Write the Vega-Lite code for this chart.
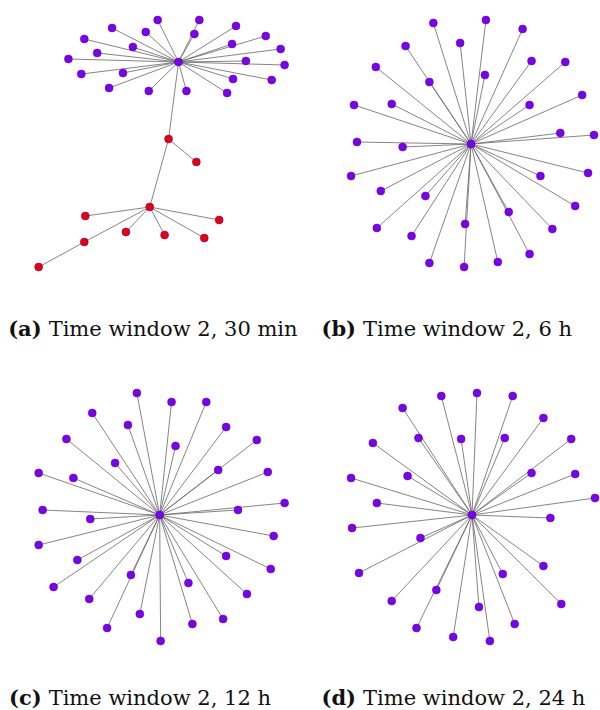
{
  "$schema": "https://vega.github.io/schema/vega-lite/v6.json",
  "width": 600,
  "height": 710,
  "autosize": {"type": "fit", "contains": "padding"},
  "padding": 0,
  "background": "white",
  "config": {"view": {"stroke": null}},
  "datasets": {
    "nodes": [
      {"id": "a0", "parent": null, "x": 180, "y": 62, "group": "purple"},
      {"id": "a1", "parent": "a0", "x": 159, "y": 20, "group": "purple"},
      {"id": "a2", "parent": "a0", "x": 113, "y": 28, "group": "purple"},
      {"id": "a3", "parent": "a0", "x": 147, "y": 32, "group": "purple"},
      {"id": "a4", "parent": "a0", "x": 85, "y": 39, "group": "purple"},
      {"id": "a5", "parent": "a0", "x": 134, "y": 47, "group": "purple"},
      {"id": "a6", "parent": "a0", "x": 98, "y": 53, "group": "purple"},
      {"id": "a7", "parent": "a0", "x": 69, "y": 59, "group": "purple"},
      {"id": "a8", "parent": "a0", "x": 82, "y": 74, "group": "purple"},
      {"id": "a9", "parent": "a0", "x": 124, "y": 73, "group": "purple"},
      {"id": "a10", "parent": "a0", "x": 110, "y": 88, "group": "purple"},
      {"id": "a11", "parent": "a0", "x": 150, "y": 91, "group": "purple"},
      {"id": "a12", "parent": "a0", "x": 201, "y": 20, "group": "purple"},
      {"id": "a13", "parent": "a0", "x": 196, "y": 34, "group": "purple"},
      {"id": "a14", "parent": "a0", "x": 238, "y": 26, "group": "purple"},
      {"id": "a15", "parent": "a0", "x": 268, "y": 36, "group": "purple"},
      {"id": "a16", "parent": "a0", "x": 234, "y": 44, "group": "purple"},
      {"id": "a17", "parent": "a0", "x": 283, "y": 49, "group": "purple"},
      {"id": "a18", "parent": "a0", "x": 248, "y": 61, "group": "purple"},
      {"id": "a19", "parent": "a0", "x": 287, "y": 65, "group": "purple"},
      {"id": "a20", "parent": "a0", "x": 235, "y": 79, "group": "purple"},
      {"id": "a21", "parent": "a0", "x": 274, "y": 80, "group": "purple"},
      {"id": "a22", "parent": "a0", "x": 188, "y": 91, "group": "purple"},
      {"id": "a23", "parent": "a0", "x": 229, "y": 93, "group": "purple"},
      {"id": "ar1", "parent": "a0", "x": 170, "y": 139, "group": "red"},
      {"id": "ar2", "parent": "ar1", "x": 198, "y": 162, "group": "red"},
      {"id": "ar3", "parent": "ar1", "x": 151, "y": 207, "group": "red"},
      {"id": "ar4", "parent": "ar3", "x": 86, "y": 216, "group": "red"},
      {"id": "ar5", "parent": "ar3", "x": 221, "y": 220, "group": "red"},
      {"id": "ar6", "parent": "ar3", "x": 127, "y": 232, "group": "red"},
      {"id": "ar7", "parent": "ar3", "x": 166, "y": 235, "group": "red"},
      {"id": "ar8", "parent": "ar3", "x": 206, "y": 238, "group": "red"},
      {"id": "ar9", "parent": "ar3", "x": 85, "y": 242, "group": "red"},
      {"id": "ar10", "parent": "ar9", "x": 39, "y": 267, "group": "red"},

      {"id": "b0", "parent": null, "x": 475, "y": 144, "group": "purple"},
      {"id": "b1", "parent": "b0", "x": 437, "y": 23, "group": "purple"},
      {"id": "b2", "parent": "b0", "x": 464, "y": 43, "group": "purple"},
      {"id": "b3", "parent": "b0", "x": 409, "y": 46, "group": "purple"},
      {"id": "b4", "parent": "b0", "x": 379, "y": 67, "group": "purple"},
      {"id": "b5", "parent": "b0", "x": 433, "y": 82, "group": "purple"},
      {"id": "b6", "parent": "b0", "x": 357, "y": 105, "group": "purple"},
      {"id": "b7", "parent": "b0", "x": 395, "y": 104, "group": "purple"},
      {"id": "b8", "parent": "b0", "x": 360, "y": 142, "group": "purple"},
      {"id": "b9", "parent": "b0", "x": 406, "y": 147, "group": "purple"},
      {"id": "b10", "parent": "b0", "x": 490, "y": 20, "group": "purple"},
      {"id": "b11", "parent": "b0", "x": 527, "y": 29, "group": "purple"},
      {"id": "b12", "parent": "b0", "x": 536, "y": 61, "group": "purple"},
      {"id": "b13", "parent": "b0", "x": 570, "y": 62, "group": "purple"},
      {"id": "b14", "parent": "b0", "x": 489, "y": 75, "group": "purple"},
      {"id": "b15", "parent": "b0", "x": 587, "y": 95, "group": "purple"},
      {"id": "b16", "parent": "b0", "x": 534, "y": 105, "group": "purple"},
      {"id": "b17", "parent": "b0", "x": 565, "y": 133, "group": "purple"},
      {"id": "b18", "parent": "b0", "x": 599, "y": 135, "group": "purple"},
      {"id": "b19", "parent": "b0", "x": 354, "y": 176, "group": "purple"},
      {"id": "b20", "parent": "b0", "x": 384, "y": 191, "group": "purple"},
      {"id": "b21", "parent": "b0", "x": 429, "y": 196, "group": "purple"},
      {"id": "b22", "parent": "b0", "x": 545, "y": 176, "group": "purple"},
      {"id": "b23", "parent": "b0", "x": 593, "y": 173, "group": "purple"},
      {"id": "b24", "parent": "b0", "x": 580, "y": 206, "group": "purple"},
      {"id": "b25", "parent": "b0", "x": 513, "y": 212, "group": "purple"},
      {"id": "b26", "parent": "b0", "x": 557, "y": 229, "group": "purple"},
      {"id": "b27", "parent": "b0", "x": 380, "y": 228, "group": "purple"},
      {"id": "b28", "parent": "b0", "x": 415, "y": 236, "group": "purple"},
      {"id": "b29", "parent": "b0", "x": 469, "y": 224, "group": "purple"},
      {"id": "b30", "parent": "b0", "x": 534, "y": 254, "group": "purple"},
      {"id": "b31", "parent": "b0", "x": 433, "y": 263, "group": "purple"},
      {"id": "b32", "parent": "b0", "x": 468, "y": 267, "group": "purple"},
      {"id": "b33", "parent": "b0", "x": 502, "y": 262, "group": "purple"},

      {"id": "c0", "parent": null, "x": 161, "y": 515, "group": "purple"},
      {"id": "c1", "parent": "c0", "x": 138, "y": 393, "group": "purple"},
      {"id": "c2", "parent": "c0", "x": 93, "y": 413, "group": "purple"},
      {"id": "c3", "parent": "c0", "x": 129, "y": 425, "group": "purple"},
      {"id": "c4", "parent": "c0", "x": 67, "y": 439, "group": "purple"},
      {"id": "c5", "parent": "c0", "x": 116, "y": 463, "group": "purple"},
      {"id": "c6", "parent": "c0", "x": 39, "y": 473, "group": "purple"},
      {"id": "c7", "parent": "c0", "x": 74, "y": 478, "group": "purple"},
      {"id": "c8", "parent": "c0", "x": 43, "y": 510, "group": "purple"},
      {"id": "c9", "parent": "c0", "x": 91, "y": 519, "group": "purple"},
      {"id": "c10", "parent": "c0", "x": 173, "y": 402, "group": "purple"},
      {"id": "c11", "parent": "c0", "x": 208, "y": 402, "group": "purple"},
      {"id": "c12", "parent": "c0", "x": 228, "y": 427, "group": "purple"},
      {"id": "c13", "parent": "c0", "x": 177, "y": 446, "group": "purple"},
      {"id": "c14", "parent": "c0", "x": 259, "y": 440, "group": "purple"},
      {"id": "c15", "parent": "c0", "x": 220, "y": 470, "group": "purple"},
      {"id": "c16", "parent": "c0", "x": 270, "y": 472, "group": "purple"},
      {"id": "c17", "parent": "c0", "x": 287, "y": 503, "group": "purple"},
      {"id": "c18", "parent": "c0", "x": 240, "y": 510, "group": "purple"},
      {"id": "c19", "parent": "c0", "x": 39, "y": 545, "group": "purple"},
      {"id": "c20", "parent": "c0", "x": 78, "y": 560, "group": "purple"},
      {"id": "c21", "parent": "c0", "x": 276, "y": 536, "group": "purple"},
      {"id": "c22", "parent": "c0", "x": 228, "y": 556, "group": "purple"},
      {"id": "c23", "parent": "c0", "x": 273, "y": 569, "group": "purple"},
      {"id": "c24", "parent": "c0", "x": 54, "y": 587, "group": "purple"},
      {"id": "c25", "parent": "c0", "x": 132, "y": 575, "group": "purple"},
      {"id": "c26", "parent": "c0", "x": 190, "y": 583, "group": "purple"},
      {"id": "c27", "parent": "c0", "x": 90, "y": 599, "group": "purple"},
      {"id": "c28", "parent": "c0", "x": 249, "y": 594, "group": "purple"},
      {"id": "c29", "parent": "c0", "x": 141, "y": 614, "group": "purple"},
      {"id": "c30", "parent": "c0", "x": 225, "y": 619, "group": "purple"},
      {"id": "c31", "parent": "c0", "x": 108, "y": 628, "group": "purple"},
      {"id": "c32", "parent": "c0", "x": 194, "y": 624, "group": "purple"},
      {"id": "c33", "parent": "c0", "x": 162, "y": 641, "group": "purple"},

      {"id": "d0", "parent": null, "x": 476, "y": 515, "group": "purple"},
      {"id": "d1", "parent": "d0", "x": 445, "y": 396, "group": "purple"},
      {"id": "d2", "parent": "d0", "x": 481, "y": 393, "group": "purple"},
      {"id": "d3", "parent": "d0", "x": 406, "y": 408, "group": "purple"},
      {"id": "d4", "parent": "d0", "x": 422, "y": 438, "group": "purple"},
      {"id": "d5", "parent": "d0", "x": 465, "y": 439, "group": "purple"},
      {"id": "d6", "parent": "d0", "x": 376, "y": 443, "group": "purple"},
      {"id": "d7", "parent": "d0", "x": 354, "y": 478, "group": "purple"},
      {"id": "d8", "parent": "d0", "x": 411, "y": 476, "group": "purple"},
      {"id": "d9", "parent": "d0", "x": 380, "y": 503, "group": "purple"},
      {"id": "d10", "parent": "d0", "x": 517, "y": 396, "group": "purple"},
      {"id": "d11", "parent": "d0", "x": 548, "y": 418, "group": "purple"},
      {"id": "d12", "parent": "d0", "x": 509, "y": 438, "group": "purple"},
      {"id": "d13", "parent": "d0", "x": 576, "y": 439, "group": "purple"},
      {"id": "d14", "parent": "d0", "x": 536, "y": 473, "group": "purple"},
      {"id": "d15", "parent": "d0", "x": 580, "y": 474, "group": "purple"},
      {"id": "d16", "parent": "d0", "x": 600, "y": 498, "group": "purple"},
      {"id": "d17", "parent": "d0", "x": 555, "y": 518, "group": "purple"},
      {"id": "d18", "parent": "d0", "x": 355, "y": 528, "group": "purple"},
      {"id": "d19", "parent": "d0", "x": 424, "y": 538, "group": "purple"},
      {"id": "d20", "parent": "d0", "x": 362, "y": 573, "group": "purple"},
      {"id": "d21", "parent": "d0", "x": 440, "y": 590, "group": "purple"},
      {"id": "d22", "parent": "d0", "x": 395, "y": 601, "group": "purple"},
      {"id": "d23", "parent": "d0", "x": 507, "y": 574, "group": "purple"},
      {"id": "d24", "parent": "d0", "x": 548, "y": 566, "group": "purple"},
      {"id": "d25", "parent": "d0", "x": 566, "y": 604, "group": "purple"},
      {"id": "d26", "parent": "d0", "x": 483, "y": 607, "group": "purple"},
      {"id": "d27", "parent": "d0", "x": 519, "y": 624, "group": "purple"},
      {"id": "d28", "parent": "d0", "x": 420, "y": 628, "group": "purple"},
      {"id": "d29", "parent": "d0", "x": 457, "y": 637, "group": "purple"},
      {"id": "d30", "parent": "d0", "x": 494, "y": 641, "group": "purple"}
    ],
    "captions": [
      {"tag": "(a)", "text": "Time window 2, 30 min", "x": 42, "y": 336},
      {"tag": "(b)", "text": "Time window 2, 6 h", "x": 359, "y": 336},
      {"tag": "(c)", "text": "Time window 2, 12 h", "x": 42, "y": 705},
      {"tag": "(d)", "text": "Time window 2, 24 h", "x": 359, "y": 705}
    ]
  },
  "layer": [
    {
      "data": {"name": "nodes"},
      "transform": [
        {"filter": "datum.parent != null"},
        {"lookup": "parent", "from": {"data": {"name": "nodes"}, "key": "id", "fields": ["x", "y"]}, "as": ["px", "py"]}
      ],
      "mark": {"type": "rule", "color": "#666666", "strokeWidth": 0.8},
      "encoding": {
        "x": {"field": "px", "type": "quantitative", "scale": {"domain": [0, 600], "nice": false, "zero": false}, "axis": null},
        "y": {"field": "py", "type": "quantitative", "scale": {"domain": [0, 710], "nice": false, "zero": false, "reverse": true}, "axis": null},
        "x2": {"field": "x"},
        "y2": {"field": "y"}
      }
    },
    {
      "data": {"name": "nodes"},
      "mark": {"type": "circle", "size": 64, "opacity": 1, "stroke": "#5a00b0", "strokeWidth": 0.5},
      "encoding": {
        "x": {"field": "x", "type": "quantitative"},
        "y": {"field": "y", "type": "quantitative"},
        "color": {"field": "group", "type": "nominal", "scale": {"domain": ["purple", "red"], "range": ["#7a00ee", "#ee0000"]}, "legend": null}
      }
    },
    {
      "data": {"name": "captions"},
      "mark": {"type": "text", "align": "right", "baseline": "alphabetic", "font": "DejaVu Serif", "fontSize": 21, "fontWeight": "bold", "color": "#111"},
      "encoding": {
        "x": {"field": "x", "type": "quantitative"},
        "y": {"field": "y", "type": "quantitative"},
        "text": {"field": "tag"}
      }
    },
    {
      "data": {"name": "captions"},
      "mark": {"type": "text", "align": "left", "baseline": "alphabetic", "dx": 7, "font": "DejaVu Serif", "fontSize": 21, "color": "#111"},
      "encoding": {
        "x": {"field": "x", "type": "quantitative"},
        "y": {"field": "y", "type": "quantitative"},
        "text": {"field": "text"}
      }
    }
  ]
}
